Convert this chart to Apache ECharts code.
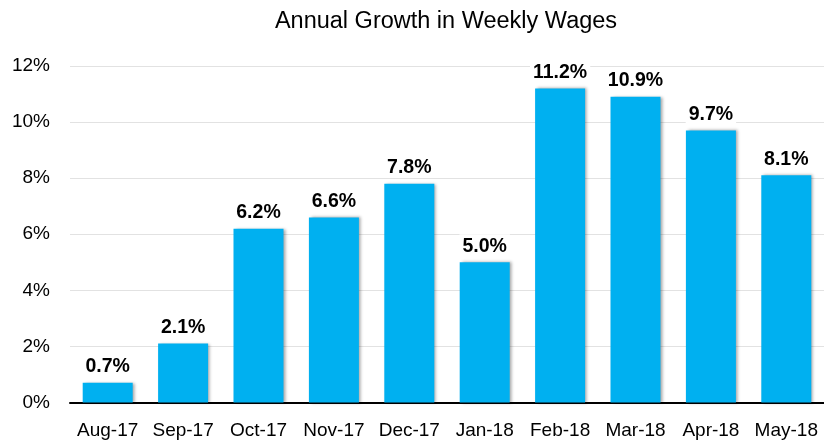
<!DOCTYPE html>
<html><head><meta charset="utf-8">
<script src="https://cdn.jsdelivr.net/npm/echarts@6/dist/echarts.min.js"></script>
<style>html,body{margin:0;padding:0;background:#fff}#c{width:824px;height:447px}</style>
</head><body><div id="c"></div>
<script>
const categories = ['Aug-17','Sep-17','Oct-17','Nov-17','Dec-17','Jan-18','Feb-18','Mar-18','Apr-18','May-18'];
const growth = [0.7, 2.1, 6.2, 6.6, 7.8, 5.0, 11.2, 10.9, 9.7, 8.1];
const yTicks = {min: 0, max: 12, interval: 2};
const titleText = 'Annual Growth in Weekly Wages';

const chart = echarts.init(document.getElementById('c'));
chart.setOption({
  animation: false,
  title: {text: titleText, left: 441, top: 5, textAlign: 'center',
    textStyle: {fontFamily: 'Liberation Sans', fontWeight: 'normal', fontSize: 23.5, color: '#000'}},
  grid: {left: 70, top: 66, width: 759, height: 336.5, containLabel: false},
  xAxis: {type: 'category', data: categories,
    axisLine: {lineStyle: {color: '#000', width: 2}},
    axisTick: {show: false},
    axisLabel: {interval: 0, hideOverlap: false, fontFamily: 'Liberation Sans', fontSize: 19, color: '#000', margin: 19}},
  yAxis: {type: 'value', min: yTicks.min, max: yTicks.max, interval: yTicks.interval,
    axisLine: {show: false}, axisTick: {show: false},
    splitLine: {lineStyle: {color: '#e2e2e2', width: 1}},
    axisLabel: {fontFamily: 'Liberation Sans', fontSize: 19, color: '#000', margin: 20,
      formatter: v => v + '%'}},
  series: [{type: 'bar', data: growth, barWidth: 50,
    itemStyle: {color: '#00B0F0', shadowColor: 'rgba(0,0,0,0.35)', shadowBlur: 3, shadowOffsetX: 2, shadowOffsetY: 0},
    label: {show: true, position: 'top', distance: 6, formatter: p => p.value.toFixed(1) + '%',
      fontFamily: 'Liberation Sans', fontWeight: 'bold', fontSize: 19.5, color: '#000',
      backgroundColor: '#fff', padding: [2, 3, 0, 3]}}]
});
</script></body></html>
